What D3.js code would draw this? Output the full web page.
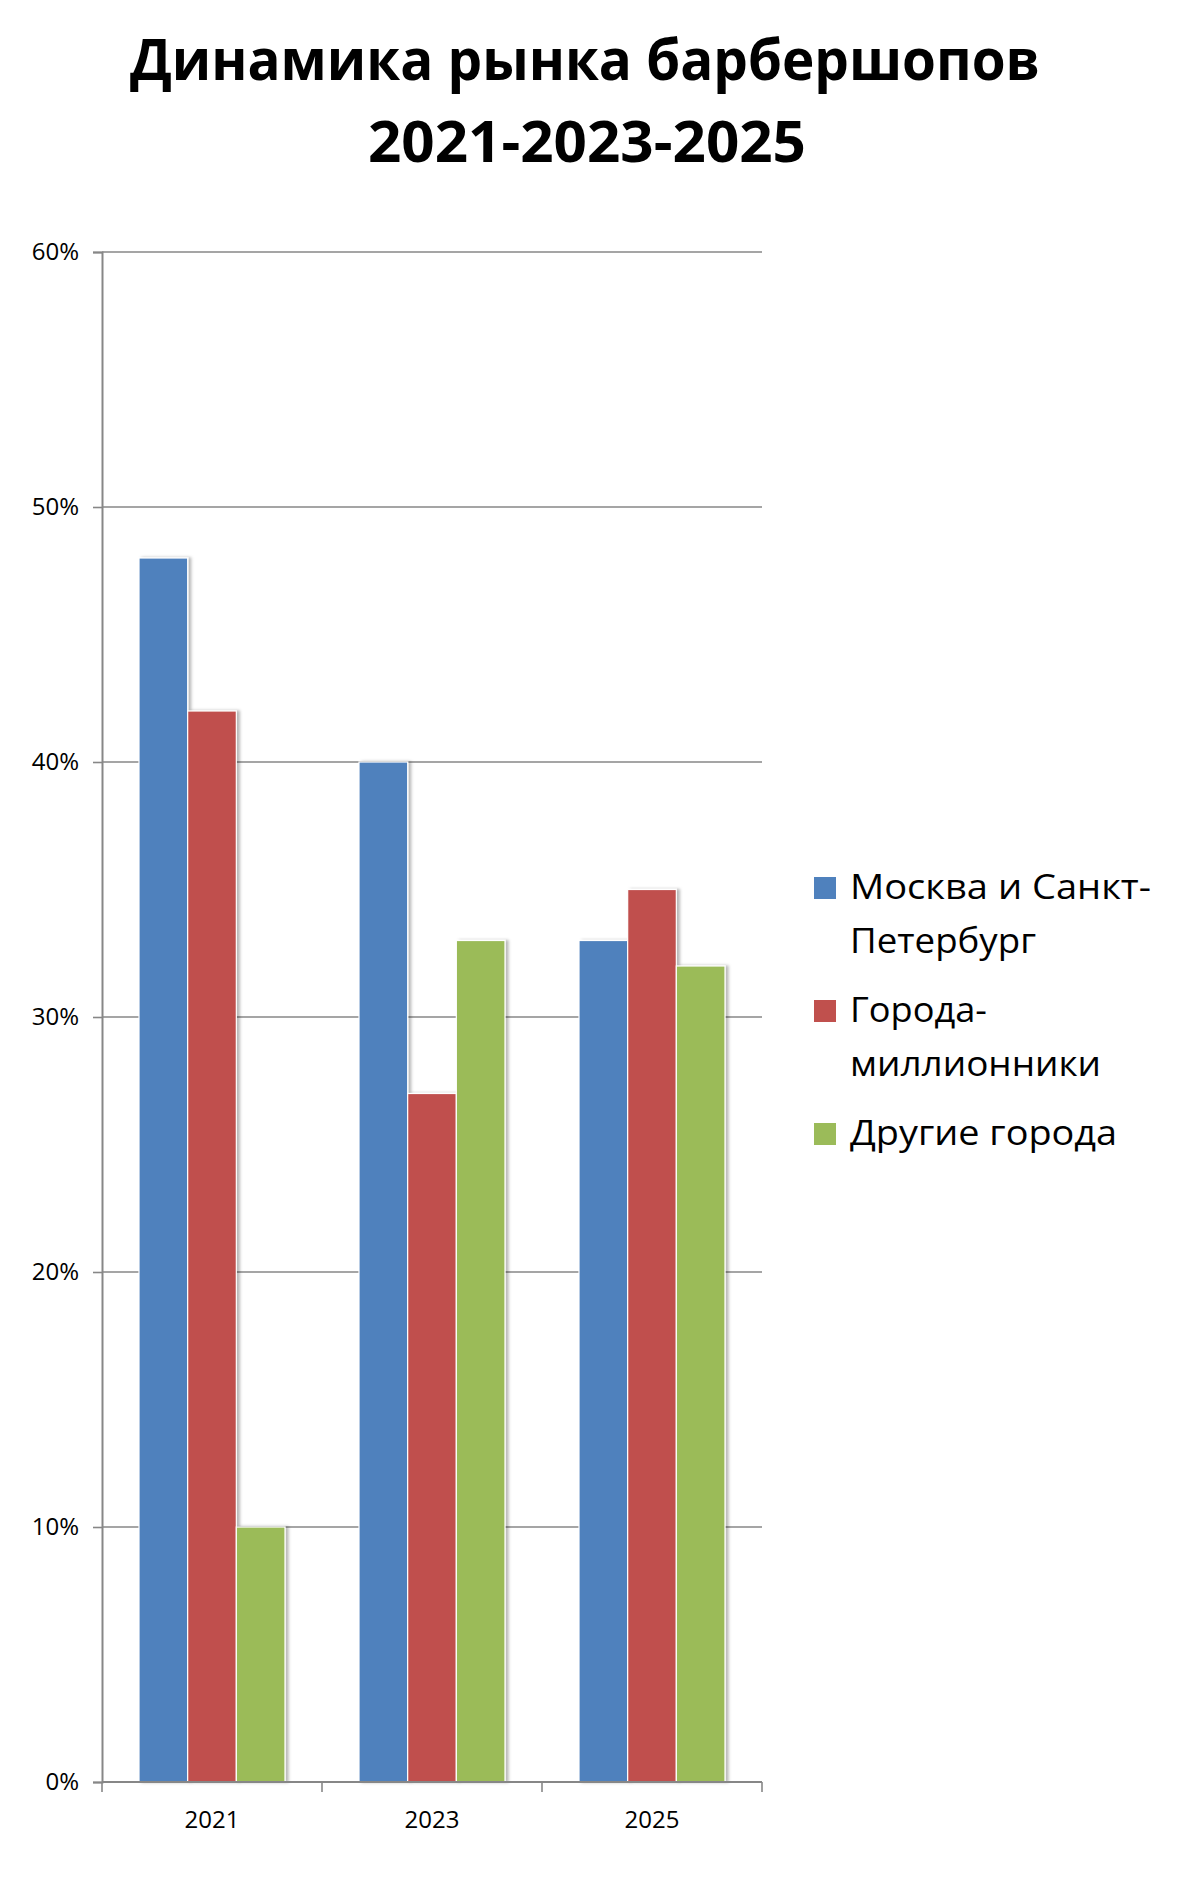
<!DOCTYPE html>
<html><head><meta charset="utf-8">
<script src="https://cdn.jsdelivr.net/npm/d3@7"></script>
<style>body{margin:0;background:#fff}svg{display:block}</style>
</head><body>
<script>
const categories = ["2021", "2023", "2025"];
const seriesNames = ["Москва и Санкт-Петербург", "Города-миллионники", "Другие города"];
const legendLines = [["Москва и Санкт-", "Петербург"], ["Города-", "миллионники"], ["Другие города"]];
const moscowSpb = [48, 40, 33];
const millionCities = [42, 27, 35];
const otherCities = [10, 33, 32];
const yTicks = [0, 10, 20, 30, 40, 50, 60];
const titleLines = ["Динамика рынка барбершопов", "2021-2023-2025"];
const colors = ["#4F81BD", "#C0504D", "#9BBB59"];

const series = [moscowSpb, millionCities, otherCities];
const W = 1180, H = 1891;
const svg = d3.select("body").append("svg").attr("width", W).attr("height", H);

const defs = svg.append("defs");
const f = defs.append("filter").attr("id", "sh").attr("x", "-20%").attr("y", "-5%").attr("width", "150%").attr("height", "110%");
f.append("feDropShadow").attr("dx", 3).attr("dy", 0).attr("stdDeviation", 1.6).attr("flood-color", "#000").attr("flood-opacity", 0.28);

// Title
const tl = [{t: titleLines[0], y: 80, w: 910, cx: 585}, {t: titleLines[1], y: 162, w: 438, cx: 587}];
svg.selectAll("text.title").data(tl).enter().append("text").attr("class", "title")
  .attr("x", d => d.cx).attr("y", d => d.y).attr("text-anchor", "middle")
  .attr("font-family", "'Open Sans', sans-serif").attr("font-weight", "bold").attr("font-size", 58)
  .attr("textLength", d => d.w).attr("lengthAdjust", "spacingAndGlyphs")
  .attr("fill", "#000").text(d => d.t);

const x0 = 102, x1 = 762, yTop = 252, yBot = 1782;
const y = d3.scaleLinear().domain([0, 60]).range([yBot, yTop]);
const xb = d3.scaleBand().domain(categories).range([x0, x1]).paddingInner(74/220).paddingOuter(37/220);
const xs = d3.scaleBand().domain(d3.range(3)).range([0, xb.bandwidth()]).padding(0);

// gridlines
svg.append("g").selectAll("line").data(yTicks.filter(v => v > 0)).enter().append("line")
  .attr("x1", x0).attr("x2", x1).attr("y1", d => y(d)).attr("y2", d => y(d))
  .attr("stroke", "#878787").attr("stroke-width", 1.6);

// y axis
const yAxis = d3.axisLeft(y).tickValues(yTicks).tickFormat(d => d + "%").tickSize(9).tickPadding(14);
const gy = svg.append("g").attr("transform", `translate(${x0},0)`).call(yAxis);
gy.select(".domain").attr("stroke", "#878787").attr("stroke-width", 2);
gy.selectAll(".tick line").attr("stroke", "#878787").attr("stroke-width", 1.6);
gy.selectAll(".tick text").attr("font-family", "'Open Sans', sans-serif").attr("font-size", 24).attr("fill", "#000");

// bars
const gBars = svg.append("g");
categories.forEach((c, ci) => {
  series.forEach((s, si) => {
    gBars.append("rect")
      .attr("x", xb(c) + xs(si)).attr("width", xs.bandwidth())
      .attr("y", y(s[ci])).attr("height", yBot - y(s[ci]))
      .attr("fill", colors[si]).attr("stroke", "#fff").attr("stroke-width", 1.2)
      .attr("filter", "url(#sh)");
  });
});

// x axis
const xAxisScale = d3.scaleLinear().domain([0, 3]).range([x0, x1]);
const gx = svg.append("g");
gx.append("line").attr("x1", x0).attr("x2", x1).attr("y1", yBot).attr("y2", yBot).attr("stroke", "#878787").attr("stroke-width", 2);
gx.selectAll("line.tk").data(d3.range(4)).enter().append("line").attr("class", "tk")
  .attr("x1", d => xAxisScale(d)).attr("x2", d => xAxisScale(d)).attr("y1", yBot).attr("y2", yBot + 10)
  .attr("stroke", "#878787").attr("stroke-width", 1.6);
gx.selectAll("text").data(categories).enter().append("text")
  .attr("x", d => xb(d) + xb.bandwidth() / 2).attr("y", 1828).attr("text-anchor", "middle")
  .attr("font-family", "'Open Sans', sans-serif").attr("font-size", 24).attr("fill", "#000").text(d => d);

// legend
const legY = [899, 1022, 1145];
const lineWidths = [[301, 186], [137, 251], [267]];
const lg = svg.append("g");
seriesNames.forEach((n, i) => {
  lg.append("rect").attr("x", 814).attr("y", legY[i] - 22).attr("width", 22).attr("height", 22).attr("fill", colors[i]);
  legendLines[i].forEach((ln, j) => {
    lg.append("text").attr("x", 850).attr("y", legY[i] + j * 54)
      .attr("font-family", "'Open Sans', sans-serif").attr("font-size", 34).attr("fill", "#000")
      .attr("textLength", lineWidths[i][j]).attr("lengthAdjust", "spacingAndGlyphs")
      .text(ln);
  });
});
</script>
</body></html>
